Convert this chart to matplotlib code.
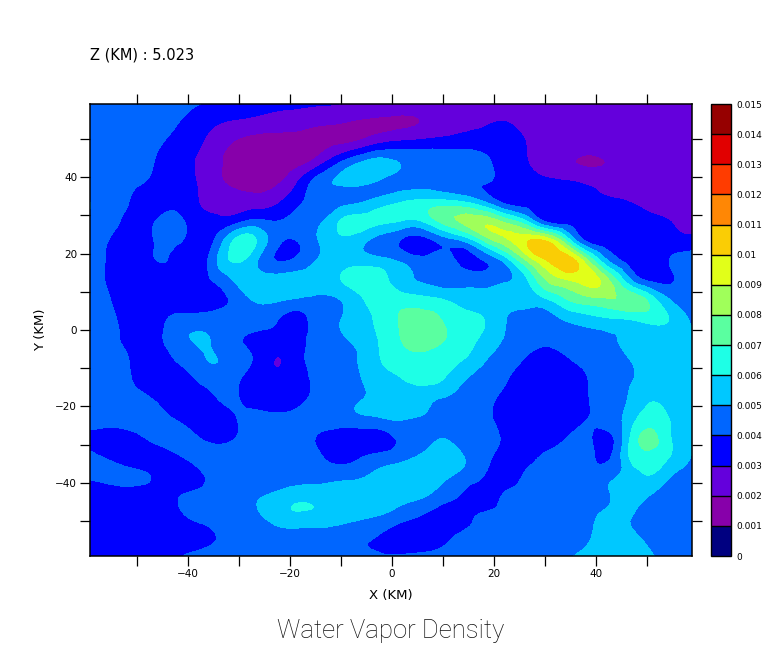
import numpy as np
import matplotlib
matplotlib.use('Agg')
import matplotlib.pyplot as plt
import matplotlib.tri as mtri
from matplotlib.colors import ListedColormap, BoundaryNorm

# grid positions (km)
x_km = [-59.2, -55.1, -51.0, -47.0, -42.9, -38.8, -34.8, -30.7, -26.6, -22.6,
        -18.5, -14.4, -10.4, -6.3, -2.2, 1.8, 5.9, 10.0, 14.0, 18.1,
        22.2, 26.2, 30.3, 34.4, 38.4, 42.5, 46.6, 50.6, 54.7, 58.8]
y_km = [59.1, 54.0, 48.8, 43.7, 38.6, 33.4, 28.3, 23.1, 18.0, 12.9, 7.7, 2.6,
        -2.6, -7.7, -12.9, -18.0, -23.1, -28.3, -33.4, -38.6, -43.7, -48.8, -54.0, -59.1]

# density, in units of 0.001, top row first
density = [
    [4.6,4.6,4.6,4.5,4.4,4.1,3.8,3.6,3.5,3.3,3.2,3.1,3.0,2.8,2.7,2.6,2.5,2.5,2.5,2.5,2.5,2.5,2.5,2.5,2.5,2.5,2.5,2.5,2.5,2.5],
    [4.7,4.7,4.6,4.4,4.1,3.6,3.1,2.8,2.6,2.4,2.3,2.1,2.0,1.8,1.8,1.85,2.05,2.4,2.7,2.9,3.05,2.7,2.5,2.5,2.5,2.5,2.5,2.5,2.5,2.5],
    [4.7,4.7,4.5,4.2,3.8,3.3,2.5,1.9,1.6,1.6,1.6,1.7,1.9,2.3,3.0,3.3,3.4,3.5,3.6,3.6,3.5,3.0,2.5,2.4,2.4,2.4,2.4,2.4,2.4,2.4],
    [4.8,4.7,4.4,4.05,3.4,3.0,2.2,1.8,1.5,1.4,1.7,2.6,4.0,5.05,5.4,4.95,4.7,4.6,4.5,4.2,3.6,3.1,2.4,2.1,1.9,2.05,2.3,2.5,2.5,2.5],
    [4.9,4.6,4.2,3.8,3.3,3.05,2.3,1.8,1.6,1.85,3.0,4.5,5.1,5.2,4.85,4.7,4.6,4.4,4.2,4.05,3.6,3.4,3.3,3.1,2.85,2.6,2.4,2.4,2.4,2.4],
    [5.0,4.5,3.9,3.5,3.7,3.15,2.7,2.5,2.5,2.85,3.8,4.35,4.7,4.95,5.5,6.0,6.3,6.4,6.1,5.1,3.8,3.6,3.6,3.45,3.2,3.1,3.0,2.7,2.5,2.4],
    [4.9,4.3,3.7,3.9,4.3,3.6,3.3,3.7,4.3,4.05,4.4,4.8,6.0,6.4,6.2,5.9,5.95,7.3,8.2,8.8,7.8,6.3,3.95,3.7,3.5,3.4,3.3,3.2,3.0,2.8],
    [4.6,3.9,3.5,3.95,4.15,3.6,4.1,6.3,6.0,4.3,4.0,5.0,5.6,5.3,4.5,3.9,3.5,4.3,4.9,6.9,8.6,9.85,10.1,7.0,3.9,3.6,3.5,3.4,3.3,3.3],
    [4.5,3.8,3.4,3.9,3.8,3.3,4.7,6.1,5.1,4.0,4.3,5.1,5.5,5.6,5.4,4.9,4.4,4.6,3.7,4.0,5.3,7.8,9.9,10.6,8.2,5.0,3.7,3.4,4.1,4.7],
    [4.5,3.8,3.3,3.3,3.4,3.5,4.1,5.1,5.5,5.5,5.5,5.4,5.9,6.5,6.4,5.4,4.9,4.6,4.6,4.6,4.9,5.8,8.0,8.9,9.4,8.1,5.3,3.9,3.9,4.6],
    [4.6,4.0,3.5,3.3,3.2,3.2,3.5,4.3,5.1,5.1,4.8,4.8,4.95,5.8,6.5,6.6,6.4,6.1,5.6,5.4,5.3,5.4,5.8,6.9,7.5,7.8,7.8,6.7,5.0,4.6],
    [4.6,4.1,3.6,3.3,4.3,4.5,4.6,4.5,4.4,4.05,3.6,4.5,4.95,5.7,6.2,7.1,7.4,6.95,6.4,6.0,5.05,4.5,4.6,5.1,5.5,5.8,5.95,6.3,5.9,4.8],
    [4.6,4.2,3.7,3.6,4.5,5.03,4.9,4.2,3.8,3.5,3.8,4.3,4.8,5.3,6.1,7.0,7.5,7.05,6.5,5.7,4.9,4.4,4.3,4.4,4.5,4.8,5.2,5.4,5.6,5.6],
    [4.6,4.3,3.9,3.4,3.95,4.7,5.03,4.5,3.8,2.97,3.7,4.3,4.8,5.05,6.0,6.6,6.7,6.4,6.0,5.1,4.5,3.9,3.3,3.9,4.3,4.7,5.0,5.5,5.6,5.6],
    [4.6,4.4,4.0,3.5,3.3,3.95,4.5,4.2,3.4,3.1,3.5,4.3,4.6,4.95,5.5,5.95,6.3,6.0,5.1,4.6,4.1,3.4,3.2,3.3,4.0,4.7,4.95,5.4,5.6,5.5],
    [4.7,4.5,4.3,4.0,3.6,3.4,3.9,4.1,3.4,3.2,3.6,4.4,4.7,4.95,5.3,5.5,5.3,4.95,4.6,4.3,3.7,3.3,3.2,3.3,3.95,4.6,5.1,5.9,5.6,5.4],
    [4.8,4.6,4.5,4.3,4.0,3.5,3.4,3.95,4.4,4.3,4.4,4.5,4.6,4.8,4.95,5.1,4.9,4.7,4.4,4.2,3.6,3.3,3.2,3.3,4.0,4.5,5.5,6.5,5.9,5.2],
    [3.5,3.3,3.6,4.2,4.5,4.2,3.7,4.0,4.5,4.6,4.4,3.9,3.4,3.3,3.5,4.1,4.4,5.0,4.4,4.3,3.8,3.3,3.5,4.05,4.2,3.7,6.0,7.3,6.0,5.1],
    [4.4,3.8,3.4,3.4,3.7,4.3,4.5,4.5,4.6,4.6,4.5,4.2,3.6,3.95,4.4,4.7,5.3,5.6,5.05,4.3,3.5,3.6,4.2,4.4,4.35,3.9,6.05,6.6,5.9,4.9],
    [4.1,4.3,4.3,3.95,3.4,3.6,4.3,4.5,4.5,4.5,4.6,4.7,4.8,4.95,5.3,5.6,5.7,5.2,4.6,3.9,3.4,4.2,4.4,4.4,4.5,4.9,5.4,5.9,4.95,4.5],
    [3.4,3.4,3.4,3.4,3.8,4.3,4.4,4.5,4.9,5.3,5.75,5.7,5.7,5.6,5.5,5.3,5.05,4.4,3.8,3.4,4.2,4.4,4.4,4.5,4.6,4.95,5.4,4.9,4.5,4.4],
    [3.4,3.4,3.4,3.4,3.6,4.2,4.4,4.5,4.8,5.45,5.78,5.7,5.5,5.2,4.9,4.4,3.9,3.4,3.6,4.2,4.3,4.4,4.5,4.6,4.8,5.2,5.05,4.6,4.4,4.4],
    [3.4,3.4,3.4,3.4,3.4,3.5,3.95,4.3,4.4,4.5,4.5,4.5,4.4,4.2,3.9,3.4,3.4,3.7,4.2,4.3,4.4,4.4,4.5,4.6,4.9,5.4,5.2,4.8,4.5,4.4],
    [3.4,3.4,3.4,3.4,3.7,4.3,4.5,4.6,4.6,4.6,4.6,4.5,4.5,4.3,4.1,4.1,4.2,4.3,4.4,4.5,4.5,4.6,4.7,4.9,5.3,5.6,5.5,5.1,4.6,4.4],
]

levels = [0, 0.001, 0.002, 0.003, 0.004, 0.005, 0.006, 0.007, 0.008,
          0.009, 0.01, 0.011, 0.012, 0.013, 0.014, 0.015]
level_labels = ['0', '0.001', '0.002', '0.003', '0.004', '0.005', '0.006', '0.007',
                '0.008', '0.009', '0.01', '0.011', '0.012', '0.013', '0.014', '0.015']
band_colors = ['#000080', '#8700aa', '#6400dc', '#0000ff', '#0066ff', '#00c8ff',
               '#1effe6', '#5affa0', '#a0ff5a', '#e1ff19', '#facd05', '#ff8705',
               '#ff3c00', '#e10000', '#960000']

W, H = 768, 662
fig = plt.figure(figsize=(W / 100, H / 100), dpi=100)
ax = fig.add_axes([90 / W, 1 - 556 / H, 602 / W, 452 / H])
cax = fig.add_axes([711 / W, 1 - 556 / H, 20 / W, 452 / H])

cmap = ListedColormap(band_colors)
norm = BoundaryNorm(levels, cmap.N)

# smooth the contours with matplotlib's own triangle refiner
X, Y = np.meshgrid(x_km, y_km)
Z = np.array(density) * 0.001
triang = mtri.Triangulation(X.ravel(), Y.ravel())
refiner = mtri.UniformTriRefiner(triang)
tri_fine, z_fine = refiner.refine_field(Z.ravel(), subdiv=3)
cs = ax.tricontourf(tri_fine, z_fine, levels=levels, cmap=cmap, norm=norm, antialiased=False)

ax.set_xlim(-59.2, 58.8)
ax.set_ylim(-59.1, 59.1)
ax.set_xticks(np.arange(-50, 51, 10))
ax.set_yticks(np.arange(-50, 51, 10))
ax.set_xticklabels(['', '\u221240', '', '\u221220', '', '0', '', '20', '', '40', ''])
ax.set_yticklabels(['', '\u221240', '', '\u221220', '', '0', '', '20', '', '40', ''])
ax.tick_params(which='both', top=True, right=True, direction='out', length=7.2,
               width=0.9, labelsize=7.5, pad=2)
for s in ax.spines.values():
    s.set_linewidth(1.1)

ax.set_xlabel('X (KM)', fontsize=9.5, labelpad=7)
ax.set_ylabel('Y (KM)', fontsize=9.5, labelpad=6)
fig.text(90 / W, 1 - 55 / H, 'Z (KM) : 5.023', fontsize=10.5, va='center', ha='left')
fig.text(391 / W, 1 - 631 / H, 'Water Vapor Density', fontsize=18.5, va='center', ha='center',
         family='Roboto', fontweight='light', color='#111111')

# colour bar
cb = fig.colorbar(cs, cax=cax, ticks=levels, spacing='uniform', drawedges=True)
cb.ax.set_yticklabels(level_labels)
cb.ax.tick_params(length=0, labelsize=6.5, pad=4)
cb.outline.set_linewidth(1.0)
cb.dividers.set_linewidth(1.0)
cb.dividers.set_color('black')

fig.savefig('out.png', dpi=100)
